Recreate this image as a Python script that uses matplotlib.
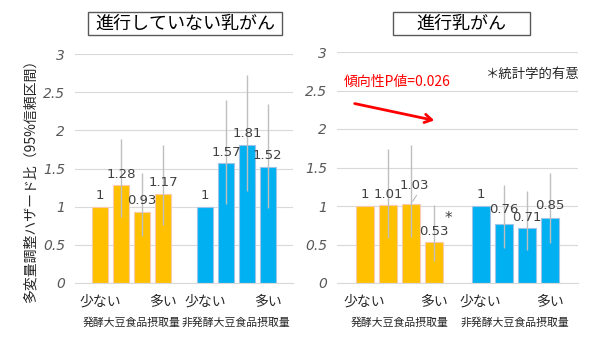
import numpy as np
import matplotlib
matplotlib.use('Agg')
import matplotlib.pyplot as plt
from matplotlib.patches import Rectangle

plt.rcParams['font.family'] = ['Noto Sans CJK JP', 'DejaVu Sans']

# データ
x_pos = [0, 1, 2, 3, 5, 6, 7, 8]
bar_colors = ['#FFC000'] * 4 + ['#00B0F0'] * 4
edge_colors = ['#F8CBAD'] * 4 + ['#9DC3E6'] * 4
tick_names = ['少ない', '多い', '少ない', '多い']
tick_at = [0, 3, 5, 8]
group_names = ['発酵大豆食品摂取量', '非発酵大豆食品摂取量']

left_hr = [1, 1.28, 0.93, 1.17, 1, 1.57, 1.81, 1.52]
left_lo = [np.nan, 0.87, 0.62, 0.76, np.nan, 1.03, 1.21, 0.98]
left_hi = [np.nan, 1.89, 1.44, 1.81, np.nan, 2.40, 2.73, 2.35]

right_hr = [1, 1.01, 1.03, 0.53, 1, 0.76, 0.71, 0.85]
right_lo = [np.nan, 0.59, 0.60, 0.28, np.nan, 0.46, 0.43, 0.52]
right_hi = [np.nan, 1.74, 1.79, 1.01, np.nan, 1.27, 1.19, 1.43]

W, H = 600, 342
fig = plt.figure(figsize=(6, 3.42), dpi=100)


def fx(px):
    return px / W


def fy(py):
    return 1 - py / H


def panel(rect, hr, lo, hi, title, title_box, label_shift):
    ax = fig.add_axes(rect)
    ax.bar(x_pos, hr, width=0.78, color=bar_colors, edgecolor=edge_colors,
           linewidth=0.8, zorder=2)
    for x, l, h in zip(x_pos, lo, hi):
        if not np.isnan(l):
            ax.vlines(x, l, h, color='#BFBFBF', lw=1, zorder=3)
    for i, (x, v) in enumerate(zip(x_pos, hr)):
        dx, dy = label_shift.get(i, (0, 8))
        ax.annotate(f'{v:g}', (x, v), xytext=(dx, dy), textcoords='offset points',
                    ha='center', va='center', fontsize=9.5, color='#404040',
                    family='DejaVu Sans', zorder=4)
    ax.set_xlim(-1.2, 9.2)
    ax.set_ylim(0, 3)
    ax.set_yticks([0, 0.5, 1, 1.5, 2, 2.5, 3])
    ax.set_yticklabels(['0', '0.5', '1', '1.5', '2', '2.5', '3'],
                       fontstyle='italic', color='#595959', fontsize=10,
                       family='DejaVu Sans')
    ax.grid(axis='y', color='#D9D9D9', lw=0.8, zorder=0)
    ax.set_axisbelow(True)
    for s in ['top', 'right', 'left']:
        ax.spines[s].set_visible(False)
    ax.spines['bottom'].set_color('#D9D9D9')
    ax.tick_params(axis='y', length=0, pad=7)
    ax.set_xticks(tick_at)
    ax.set_xticklabels(tick_names, fontsize=10, color='#262626')
    ax.tick_params(axis='x', length=0, pad=8)
    for gx, g in zip([1.5, 6.5], group_names):
        ax.text(gx, -0.52, g, ha='center', va='center', fontsize=7.8,
                color='#262626')
    # タイトル枠
    bx0, by0, bx1, by1 = title_box
    fig.patches.append(Rectangle((fx(bx0), fy(by1)), fx(bx1 - bx0), (by1 - by0) / H,
                                 transform=fig.transFigure, fill=False,
                                 edgecolor='#595959', lw=1))
    fig.text(fx((bx0 + bx1) / 2), fy((by0 + by1) / 2 + 0.5), title, ha='center',
             va='center', fontsize=13, color='black')
    return ax


ax1 = panel([fx(75), fy(283), fx(293 - 75), (283 - 54) / H], left_hr, left_lo,
            left_hi, '進行していない乳がん', (88, 12, 282, 35),
            {2: (0, 8), 1: (0, 8)})
ax2 = panel([fx(337), fy(283), fx(578 - 337), (283 - 52) / H], right_hr, right_lo,
            right_hi, '進行乳がん', (393, 12, 530, 35),
            {2: (2, 13), 5: (0, 11), 6: (0, 8), 7: (0, 9)})

# 1.03 のラベル引き出し線
ax2.annotate('', xy=(2, 1.03), xytext=(2.3, 1.17),
             arrowprops=dict(arrowstyle='-', color='#A6A6A6', lw=0.6))
ax2.text(3.6, 0.84, '*', fontsize=11, color='#404040', ha='center', va='center',
         family='DejaVu Sans')

fig.text(fx(397), fy(82), '傾向性P値=0.026', color='#FF0000', fontsize=10,
         ha='center', va='center')
fig.patches.append(matplotlib.patches.FancyArrowPatch(
    (fx(352), fy(103)), (fx(437), fy(121)), transform=fig.transFigure,
    arrowstyle='->,head_length=5,head_width=3', color='#FF0000', lw=2))
fig.text(fx(533), fy(74), '＊統計学的有意', color='#262626', fontsize=9.6,
         ha='center', va='center')

fig.text(fx(31), fy(178), '多変量調整ハザード比（95%信頼区間）', rotation=90,
         ha='center', va='center', fontsize=10, color='#262626')

fig.savefig('out.png', dpi=100)
